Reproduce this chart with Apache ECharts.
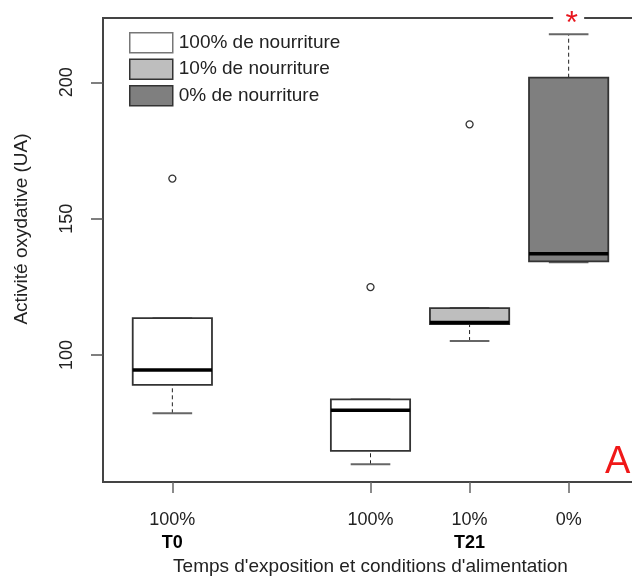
<!DOCTYPE html>
<html>
<head>
<meta charset="utf-8">
<script src="https://cdn.jsdelivr.net/npm/echarts@6/dist/echarts.min.js"></script>
<style>
  html, body { margin: 0; padding: 0; background: #fff; }
  #chart { width: 632px; height: 576px; }
</style>
</head>
<body>
<div id="chart"></div>
<script>
// box positions on the x scale (slot 2 is left empty between T0 and T21)
const positions = [1, 3, 4, 5];
const foodLabels = ['100%', '100%', '10%', '0%'];
const timeLabels = ['T0', '', 'T21', ''];
const groupOf = [0, 0, 1, 2];

const whiskerLow = [78.6, 59.9, 105.1, 134.0];
const quartile1 = [89.0, 64.8, 111.3, 134.3];
const medians = [94.5, 79.7, 111.9, 137.1];
const quartile3 = [113.5, 83.7, 117.2, 201.7];
const whiskerHigh = [113.5, 83.7, 117.2, 217.6];

const outlierPos = [1, 3, 4];
const outlierVal = [164.7, 124.9, 184.6];

const seriesNames = ['100% de nourriture', '10% de nourriture', '0% de nourriture'];
const fills = ['#ffffff', '#bebebe', '#7f7f7f'];
const yTicks = [100, 150, 200];
const starPos = [5];

const yMin = 53.4, yMax = 223.6;
const FONT = '"Liberation Sans", Arial, sans-serif';

const chart = echarts.init(document.getElementById('chart'));

function renderBox(params, api) {
  const x = api.value(0);
  const lo = api.coord([x, api.value(1)]);
  const b1 = api.coord([x, api.value(2)]);
  const md = api.coord([x, api.value(3)]);
  const b3 = api.coord([x, api.value(4)]);
  const hi = api.coord([x, api.value(5)]);
  const w = api.size([0.8, 0])[0];
  const cx = lo[0];
  const dash = { stroke: '#222', lineWidth: 1, lineDash: [4, 3] };
  const cap = { stroke: '#666', lineWidth: 2 };
  return {
    type: 'group',
    children: [
      { type: 'line', shape: { x1: cx, y1: b3[1], x2: cx, y2: hi[1] }, style: dash },
      { type: 'line', shape: { x1: cx, y1: lo[1], x2: cx, y2: b1[1] }, style: dash },
      { type: 'line', shape: { x1: cx - w / 4, y1: hi[1], x2: cx + w / 4, y2: hi[1] }, style: cap },
      { type: 'line', shape: { x1: cx - w / 4, y1: lo[1], x2: cx + w / 4, y2: lo[1] }, style: cap },
      {
        type: 'rect',
        shape: { x: cx - w / 2, y: b3[1], width: w, height: b1[1] - b3[1] },
        style: { fill: api.visual('color'), stroke: '#333', lineWidth: 1.8 }
      },
      { type: 'line', shape: { x1: cx - w / 2, y1: md[1], x2: cx + w / 2, y2: md[1] }, style: { stroke: '#000', lineWidth: 3.5 } }
    ]
  };
}

const boxSeries = seriesNames.map((name, g) => ({
  name: name,
  type: 'custom',
  renderItem: renderBox,
  itemStyle: { color: fills[g] },
  encode: { x: 0, y: [1, 2, 3, 4, 5] },
  data: positions
    .map((p, i) => [p, whiskerLow[i], quartile1[i], medians[i], quartile3[i], whiskerHigh[i], groupOf[i]])
    .filter(d => d[6] === g)
    .map(d => d.slice(0, 6))
}));

const option = {
  animation: false,
  backgroundColor: '#fff',
  grid: {
    left: 103, right: -6, top: 18, bottom: 94,
    outerBoundsMode: 'none',
    containLabel: false,
    show: true, borderColor: '#444', borderWidth: 2
  },
  legend: {
    orient: 'vertical',
    left: 124, top: 27,
    itemWidth: 43, itemHeight: 20, itemGap: 5,
    icon: 'rect',
    textStyle: { fontFamily: FONT, fontSize: 19, color: '#222', padding: [0, 0, 0, 1] },
    data: seriesNames.map((n, g) => ({
      name: n,
      itemStyle: { color: fills[g], borderColor: g === 0 ? '#777' : '#333', borderWidth: 1.5 }
    }))
  },
  xAxis: {
    type: 'value',
    min: 0.3, max: 5.7,
    splitLine: { show: false },
    axisLine: { show: false },
    axisTick: { show: true, length: 11, customValues: positions, lineStyle: { color: '#666', width: 1.5 } },
    axisLabel: {
      customValues: positions,
      margin: 27,
      fontFamily: FONT,
      formatter: v => {
        const i = positions.indexOf(v);
        return timeLabels[i] ? '{f|' + foodLabels[i] + '}\n{t|' + timeLabels[i] + '}' : '{f|' + foodLabels[i] + '}';
      },
      rich: {
        f: { fontFamily: FONT, fontSize: 18, color: '#222', lineHeight: 23 },
        t: { fontFamily: FONT, fontSize: 18, color: '#000', fontWeight: 'bold', lineHeight: 23 }
      }
    },
    name: "Temps d'exposition et conditions d'alimentation",
    nameLocation: 'middle',
    nameGap: 75,
    nameTextStyle: { fontFamily: FONT, fontSize: 19, color: '#222' }
  },
  yAxis: {
    type: 'value',
    min: yMin, max: yMax,
    splitLine: { show: false },
    axisLine: { show: false },
    axisTick: { show: true, length: 12, customValues: yTicks, lineStyle: { color: '#555', width: 1.5 } },
    axisLabel: {
      customValues: yTicks,
      rotate: 90,
      margin: 27,
      fontFamily: FONT, fontSize: 18, color: '#222'
    }
  },
  graphic: [
    {
      type: 'text', x: 22, y: 229, rotation: Math.PI / 2,
      style: { text: 'Activité oxydative (UA)', font: '19px ' + FONT, fill: '#222', align: 'center', verticalAlign: 'middle' }
    },
    {
      type: 'text', x: 605, y: 463,
      style: { text: 'A', font: '38px ' + FONT, fill: '#f01818', align: 'left', verticalAlign: 'middle' }
    }
  ],
  series: [
    ...boxSeries,
    {
      name: 'outliers',
      type: 'scatter',
      symbol: 'circle',
      symbolSize: 7,
      itemStyle: { color: '#fff', borderColor: '#333', borderWidth: 1.3, opacity: 1 },
      data: outlierPos.map((p, i) => [p, outlierVal[i]])
    },
    {
      name: 'signif',
      type: 'scatter',
      clip: false,
      z: 5,
      symbol: 'rect',
      symbolSize: [31, 6],
      itemStyle: { color: '#fff', opacity: 1 },
      label: {
        show: true, position: 'inside', formatter: '*',
        offset: [3, 6],
        fontFamily: FONT, fontSize: 32, lineHeight: 32, color: '#e8171f'
      },
      data: starPos.map(p => [p, yMax])
    }
  ]
};

chart.setOption(option);
</script>
</body>
</html>
